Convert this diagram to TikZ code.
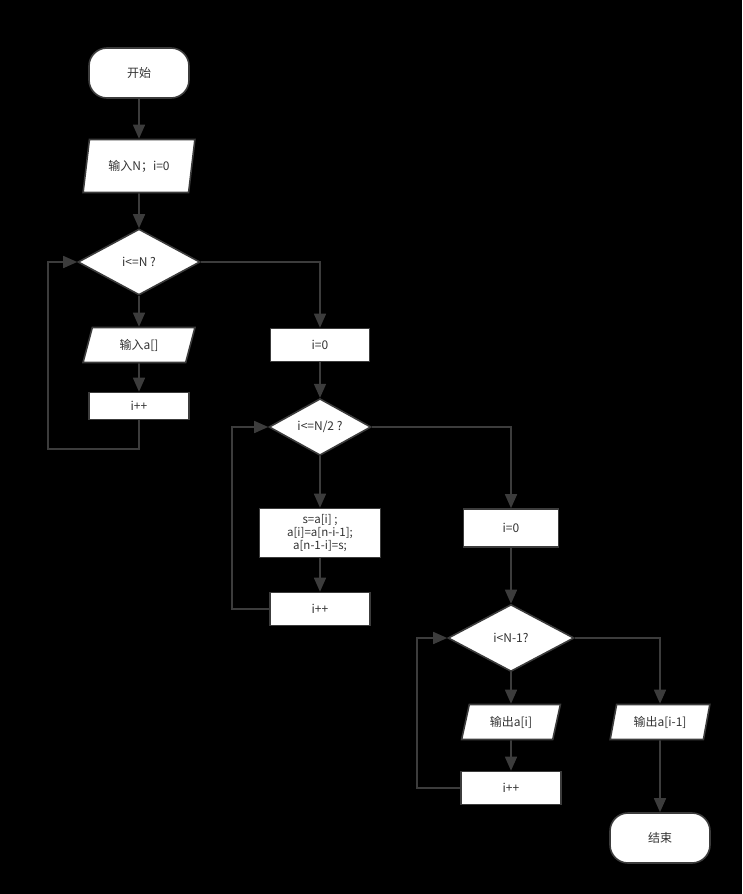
\documentclass[tikz,border=0pt]{standalone}
\usepackage{fontspec}
\setmainfont{Noto Sans CJK SC}
\usetikzlibrary{shapes.geometric,arrows.meta}
\definecolor{ln}{HTML}{3C3C3C}
\definecolor{tx}{HTML}{333333}
\tikzset{
  base/.style={draw=ln, line width=1.6pt, fill=white, text=tx, inner sep=1pt, font=\fontsize{12}{14}\selectfont},
  term/.style={base, rectangle, rounded corners=18pt, minimum width=100pt, minimum height=50pt},
  proc/.style={base, rectangle, minimum width=100pt, minimum height=33pt, align=center},
  io/.style={base, trapezium, trapezium left angle=74, trapezium right angle=106, trapezium stretches=true, minimum width=#1, minimum height=35pt},
  io/.default=112pt,
  dec/.style={base, diamond, inner sep=0pt},
  conn/.style={draw=ln, line width=1.6pt, -{Triangle[length=14pt,width=12pt]}},
  plain/.style={draw=ln, line width=1.6pt}
}
\begin{document}
\begin{tikzpicture}[x=1pt,y=-1pt]
\fill[black] (0,0) rectangle (742,894);
\useasboundingbox (0,0) rectangle (742,894);
\node[term] (start) at (139,73) {开始};
\node[io=112pt, minimum height=53pt] (inN) at (139,166) {输入N；i=0};
\node[dec, minimum width=122pt, minimum height=66pt] (d1) at (139,262) {i<=N ?};
\node[io=112pt] (ina) at (139,345) {输入a[]};
\node[proc, minimum height=27pt] (inc1) at (139,406) {i++};
\node[proc, minimum width=99pt] (z1) at (320,345) {i=0};
\node[dec, minimum width=102pt, minimum height=51pt] (d2) at (320,427) {i<=N/2 ?};
\node[proc, minimum width=121pt, minimum height=49pt, font=\fontsize{11.5}{13}\selectfont] (swap) at (320,533) {s=a[i] ;\\a[i]=a[n-i-1];\\a[n-1-i]=s;};
\node[proc] (inc2) at (320,609) {i++};
\node[proc, minimum width=95pt, minimum height=38pt] (z2) at (511,528) {i=0};
\node[dec, minimum width=126pt, minimum height=67pt] (d3) at (511,638) {i<N-1?};
\node[io=99pt] (outa) at (511,722) {输出a[i]};
\node[proc] (inc3) at (511,788) {i++};
\node[io=100pt] (outl) at (660,722) {输出a[i-1]};
\node[term] (end) at (660,838) {结束};
\coordinate (l1) at (48,449);
\coordinate (l2) at (232,609);
\coordinate (l3) at (417,788);
\draw[conn] (start) -- (inN);
\draw[conn] (inN) -- (d1);
\draw[conn] (d1) -- (ina);
\draw[conn] (ina) -- (inc1);
\draw[conn] (inc1.south) |- (l1) |- (d1.west);
\draw[conn] (d1.east) -| (z1.north);
\draw[conn] (z1) -- (d2);
\draw[conn] (d2) -- (swap);
\draw[conn] (swap) -- (inc2);
\draw[conn] (inc2.west) -- (l2) |- (d2.west);
\draw[conn] (d2.east) -| (z2.north);
\draw[conn] (z2) -- (d3);
\draw[conn] (d3) -- (outa);
\draw[conn] (outa) -- (inc3);
\draw[conn] (inc3.west) -- (l3) |- (d3.west);
\draw[conn] (d3.east) -| (outl.north);
\draw[conn] (outl) -- (end);
\end{tikzpicture}
\end{document}
